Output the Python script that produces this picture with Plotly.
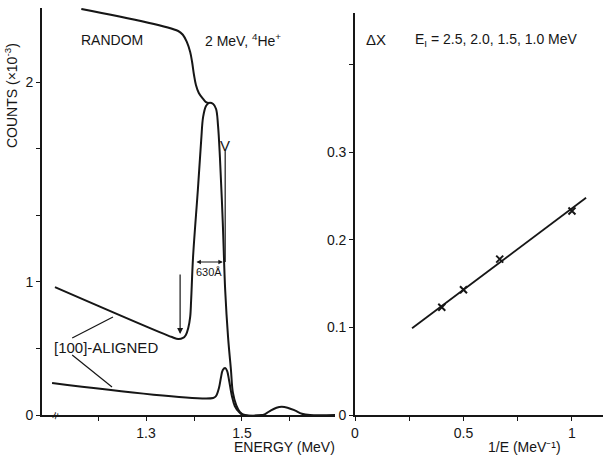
import plotly.graph_objects as go

# ---------------- Left panel: backscattering spectra ----------------
# energy (MeV) and counts in axis display units (tick "1" = 1, tick "2" = 2.5)
random_energy = [1.165, 1.367, 1.377, 1.385, 1.392, 1.396, 1.400, 1.404, 1.410, 1.419, 1.425, 1.431]
random_counts = [3.053, 2.887, 2.857, 2.805, 2.729, 2.654, 2.556, 2.481, 2.421, 2.376, 2.353, 2.346]

aligned_hi_energy = [1.110, 1.354, 1.367, 1.377, 1.383, 1.388, 1.392, 1.394, 1.398, 1.408, 1.415,
                     1.419, 1.425, 1.431, 1.440, 1.446, 1.450, 1.454, 1.460, 1.465, 1.471, 1.477,
                     1.481, 1.488, 1.496, 1.506, 1.544, 1.558, 1.572, 1.583, 1.595, 1.610, 1.625,
                     1.642, 1.694]
aligned_hi_counts = [0.962, 0.586, 0.571, 0.579, 0.602, 0.654, 0.737, 0.865, 1.188, 1.692, 2.068,
                     2.241, 2.323, 2.346, 2.338, 2.301, 2.180, 1.940, 1.444, 0.940, 0.586, 0.340,
                     0.170, 0.075, 0.022, 0.0, 0.0, 0.030, 0.055, 0.062, 0.055, 0.035, 0.010,
                     0.0, 0.0]

aligned_lo_energy = [1.104, 1.440, 1.446, 1.452, 1.456, 1.460, 1.465, 1.469, 1.473, 1.479,
                     1.485, 1.494, 1.502, 1.544]
aligned_lo_counts = [0.241, 0.128, 0.143, 0.203, 0.278, 0.338, 0.353, 0.331, 0.263, 0.143,
                     0.068, 0.022, 0.0, 0.0]

left_x_tickvals = [1.2, 1.3, 1.4, 1.5, 1.6]
left_x_ticktext = ["", "1.3", "", "1.5", ""]
left_y_tickvals = [0, 0.5, 1.0, 1.5, 2.0, 2.5]
left_y_ticktext = ["0", "", "1", "", "", "2"]

# ---------------- Right panel: dechanneling vs 1/E ----------------
beam_energies = [2.5, 2.0, 1.5, 1.0]
inv_energy = [0.4, 0.5, 0.667, 1.0]
delta_x = [0.123, 0.143, 0.178, 0.233]
fit_inv_energy = [0.263, 1.065]
fit_delta_x = [0.099, 0.248]

right_x_tickvals = [0, 0.25, 0.5, 0.75, 1.0]
right_x_ticktext = ["0", "", "0.5", "", "1"]
right_y_tickvals = [0, 0.1, 0.2, 0.3, 0.4]
right_y_ticktext = ["0", "0.1", "0.2", "0.3", ""]

INK = "#161616"
FONT = "Liberation Sans"

W, H = 603, 455
def px(x):
    return x / W
def py(y):
    return (H - y) / H

fig = go.Figure()
line_style = dict(color=INK, width=2)
fig.add_trace(go.Scatter(x=random_energy, y=random_counts, mode="lines", line=line_style,
                         line_shape="spline", xaxis="x", yaxis="y", showlegend=False))
fig.add_trace(go.Scatter(x=aligned_hi_energy, y=aligned_hi_counts, mode="lines", line=line_style,
                         line_shape="spline", xaxis="x", yaxis="y", showlegend=False))
fig.add_trace(go.Scatter(x=aligned_lo_energy, y=aligned_lo_counts, mode="lines", line=line_style,
                         line_shape="spline", xaxis="x", yaxis="y", showlegend=False))
fig.add_trace(go.Scatter(x=fit_inv_energy, y=fit_delta_x, mode="lines",
                         line=dict(color=INK, width=1.8), xaxis="x2", yaxis="y2", showlegend=False))
fig.add_trace(go.Scatter(x=inv_energy, y=delta_x, mode="markers",
                         marker=dict(symbol="x-thin", size=7, line=dict(color=INK, width=2)),
                         xaxis="x2", yaxis="y2", showlegend=False))

LX = [px(42), px(335)]
RX = [px(355), 1.0]
LY = [py(415), py(8)]
RY = [py(415), py(13)]

axis_common = dict(showgrid=False, zeroline=False, showline=True, linecolor=INK, linewidth=1.6,
                   ticks="outside", ticklen=4, tickwidth=1.3, tickcolor=INK,
                   tickfont=dict(family=FONT, size=14, color=INK), automargin=False)
inner_common = dict(showgrid=False, zeroline=False, showline=False, ticks="inside", ticklen=4,
                    tickwidth=1.3, tickcolor=INK, showticklabels=False)

fig.update_layout(
    width=W, height=H,
    margin=dict(l=0, r=0, t=0, b=0),
    paper_bgcolor="white", plot_bgcolor="white",
    font=dict(family=FONT, size=14, color=INK),
    xaxis=dict(domain=LX, range=[1.083, 1.694], anchor="y", tickmode="array",
               tickvals=left_x_tickvals, ticktext=left_x_ticktext, **axis_common),
    yaxis=dict(domain=LY, range=[0, 3.06], anchor="x", tickmode="array",
               tickvals=left_y_tickvals, ticktext=left_y_ticktext, **axis_common),
    xaxis2=dict(domain=RX, range=[0, 1.143], anchor="y2", tickmode="array",
                tickvals=right_x_tickvals, ticktext=right_x_ticktext, **axis_common),
    yaxis2=dict(domain=RY, range=[0, 0.459], anchor="x2", tickmode="array",
                tickvals=right_y_tickvals, ticktext=right_y_ticktext, **axis_common),
    xaxis3=dict(overlaying="x", anchor="y", range=[1.083, 1.694], tickmode="array",
                tickvals=left_x_tickvals, **inner_common),
    yaxis3=dict(overlaying="y", anchor="x", range=[0, 3.06], tickmode="array",
                tickvals=left_y_tickvals, **inner_common),
    xaxis4=dict(overlaying="x2", anchor="y2", range=[0, 1.143], tickmode="array",
                tickvals=right_x_tickvals, **inner_common),
    yaxis4=dict(overlaying="y2", anchor="x2", range=[0, 0.459], tickmode="array",
                tickvals=right_y_tickvals, **inner_common),
)

ann = []
def txt(x, y, s, xref="x", yref="y", size=14, xanchor="center", angle=0, pad=1):
    ann.append(dict(x=x, y=y, xref=xref, yref=yref, text=s, showarrow=False,
                    xanchor=xanchor, yanchor="middle", textangle=angle, borderpad=pad,
                    font=dict(family=FONT, size=size, color=INK)))

txt(1.229, 2.82, "RANDOM")
txt(1.502, 2.82, "2 MeV, <sup>4</sup>He<sup>+</sup>", size=14)
txt(1.104, 0.511, "[100]-ALIGNED", xanchor="left", size=15)
txt(1.431, 1.075, "630Å", size=11)
txt(1.465, 2.03, "V", size=15)
txt(1.110, 0.0, "≈", size=13, angle=-65)
txt(0.097, 0.4286, "ΔX", xref="x2", yref="y2", size=15)
txt(0.65, 0.4286, "E<sub>I</sub> = " + ", ".join(f"{e:.1f}" for e in beam_energies) + " MeV",
    xref="x2", yref="y2", size=14)
txt(px(284), py(447), "ENERGY (MeV)", xref="paper", yref="paper", size=14, pad=0)
txt(px(524), py(447), "1/E (MeV⁻¹)", xref="paper", yref="paper", size=14, pad=0)
txt(px(11), py(96), "COUNTS (×10<sup>-3</sup>)", xref="paper", yref="paper", size=14, angle=-90)

# arrows
ann.append(dict(x=1.371, y=0.609, ax=1.371, ay=1.068, xref="x", yref="y", axref="x", ayref="y",
                text="", showarrow=True, arrowhead=2, arrowsize=1, arrowwidth=1.2, arrowcolor=INK))
ann.append(dict(x=1.460, y=1.150, ax=1.402, ay=1.150, xref="x", yref="y", axref="x", ayref="y",
                text="", showarrow=True, arrowhead=2, arrowside="end+start", arrowsize=0.8,
                arrowwidth=1.1, arrowcolor=INK))
fig.update_layout(annotations=ann)

shapes = [
    dict(type="line", xref="x", yref="y", x0=1.465, y0=1.99, x1=1.465, y1=1.15,
         line=dict(color=INK, width=1.2)),
    dict(type="line", xref="x", yref="y", x0=1.146, y0=0.579, x1=1.231, y1=0.737,
         line=dict(color=INK, width=1.2)),
    dict(type="line", xref="x", yref="y", x0=1.146, y0=0.451, x1=1.229, y1=0.211,
         line=dict(color=INK, width=1.2)),
]
fig.update_layout(shapes=shapes)

fig.write_html("out.html", config={"displayModeBar": False},
               post_script="document.body.style.margin='0px';")
